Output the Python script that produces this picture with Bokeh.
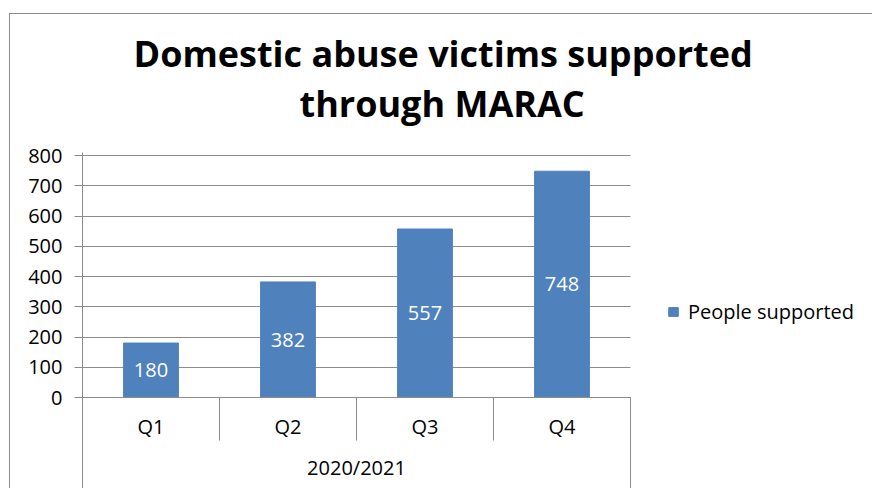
from bokeh.plotting import figure
from bokeh.models import (Range1d, FixedTicker, Legend, LegendItem,
                          ColumnDataSource, Title)
from bokeh.embed import file_html
from bokeh.resources import INLINE
from bokeh.core.properties import value

# ---- data ----
title_lines = ["Domestic abuse victims supported", "through MARAC"]
quarters = ["Q1", "Q2", "Q3", "Q4"]
people_supported = [180, 382, 557, 748]
period = "2020/2021"
series_name = "People supported"
y_ticks = [0, 100, 200, 300, 400, 500, 600, 700, 800]

# ---- layout constants (pixels) ----
W, H = 863, 475
FRAME_LEFT, FRAME_TOP = 72, 138
CAT_PX = 548           # pixel width of the category band
AXIS_PX = 242          # pixel height of the 0..max value band
BELOW_PX = 92          # pixels from value 0 to bottom of canvas
ABOVE_PX = 3           # pixels above the top tick
SEP_PX = 43            # length of inner category separators

FONT = "Open Sans"
BAR_COLOR = "#4F81BD"
GRID_COLOR = "#8c8c8c"
TXT = "20px"

n = len(quarters)
centers = [i + 0.5 for i in range(n)]
frame_w = W - FRAME_LEFT
x_range = Range1d(0, n * frame_w / CAT_PX)
y_max = y_ticks[-1]
scale = AXIS_PX / y_max
y_range = Range1d(-BELOW_PX / scale, y_max + ABOVE_PX / scale)

p = figure(width=W, height=H, x_range=x_range, y_range=y_range,
           output_backend="svg", toolbar_location=None,
           min_border_left=FRAME_LEFT, min_border_right=0,
           min_border_top=FRAME_TOP, min_border_bottom=0)
p.outline_line_color = None
p.background_fill_color = "white"
p.border_fill_color = "white"
p.margin = (13, 0, 0, 9)
p.styles = {"border-left": "1px solid #8c8c8c", "border-top": "1px solid #8c8c8c"}

# ---- title (two centred lines) ----
def style_title(t, offset, standoff):
    t.align = "left"
    t.offset = offset
    t.standoff = standoff
    t.text_font = FONT
    t.text_font_size = "36px"
    t.text_font_style = "bold"
    t.text_color = "black"

p.title.text = title_lines[0]
style_title(p.title, 51, -51)
second_title = Title(text=title_lines[1])
style_title(second_title, 217, 49)
p.add_layout(second_title, "above")

# ---- bars ----
src = ColumnDataSource(dict(x=centers, v=people_supported,
                            mid=[v / 2 for v in people_supported],
                            lab=[str(v) for v in people_supported]))
bars = p.vbar(x="x", top="v", width=0.4, source=src,
              fill_color=BAR_COLOR, line_color=BAR_COLOR)
p.text(x="x", y="mid", text="lab", source=src, text_align="center",
       text_baseline="middle", text_color="white", text_font=value(FONT),
       text_font_size=TXT)

# ---- category separators ----
bounds = list(range(1, n + 1))
sep_y1 = [-SEP_PX / scale] * (n - 1) + [y_range.start]
p.segment(x0=bounds, y0=[0] * n, x1=bounds, y1=sep_y1,
          line_color=GRID_COLOR, line_width=1)

# ---- axes ----
yax = p.yaxis[0]
yax.ticker = FixedTicker(ticks=y_ticks)
yax.axis_line_color = GRID_COLOR
yax.major_tick_line_color = GRID_COLOR
yax.major_tick_out = 8
yax.major_tick_in = 0
yax.minor_tick_line_color = None
yax.major_label_standoff = 12
yax.major_label_text_font = FONT
yax.major_label_text_font_size = TXT
yax.major_label_text_color = "black"

xax = p.xaxis[0]
xax.fixed_location = 0
xax.bounds = (0, n)
xax.ticker = FixedTicker(ticks=centers)
xax.major_label_overrides = {c: q for c, q in zip(centers, quarters)}
xax.axis_line_color = GRID_COLOR
xax.major_tick_out = 0
xax.major_tick_in = 0
xax.major_tick_line_color = None
xax.minor_tick_line_color = None
xax.major_label_standoff = 15
xax.major_label_text_font = FONT
xax.major_label_text_font_size = TXT
xax.major_label_text_color = "black"
xax.axis_label = period
xax.axis_label_standoff = 11
xax.axis_label_text_font = FONT
xax.axis_label_text_font_size = TXT
xax.axis_label_text_font_style = "normal"
xax.axis_label_text_color = "black"

p.xgrid.visible = False
p.ygrid.ticker = FixedTicker(ticks=y_ticks)
p.ygrid.grid_line_color = GRID_COLOR
p.ygrid.cross_bounds = (0, n)

# ---- legend ----
legend = Legend(items=[LegendItem(label=series_name, renderers=[bars])],
                location=(585, 164), orientation="vertical",
                glyph_width=12, glyph_height=11, label_standoff=9,
                padding=5, spacing=0, border_line_color=None,
                background_fill_alpha=0, label_text_font=FONT,
                label_text_font_size=TXT, label_text_color="black")
p.add_layout(legend)

open("out.html", "w").write(file_html(p, INLINE))
